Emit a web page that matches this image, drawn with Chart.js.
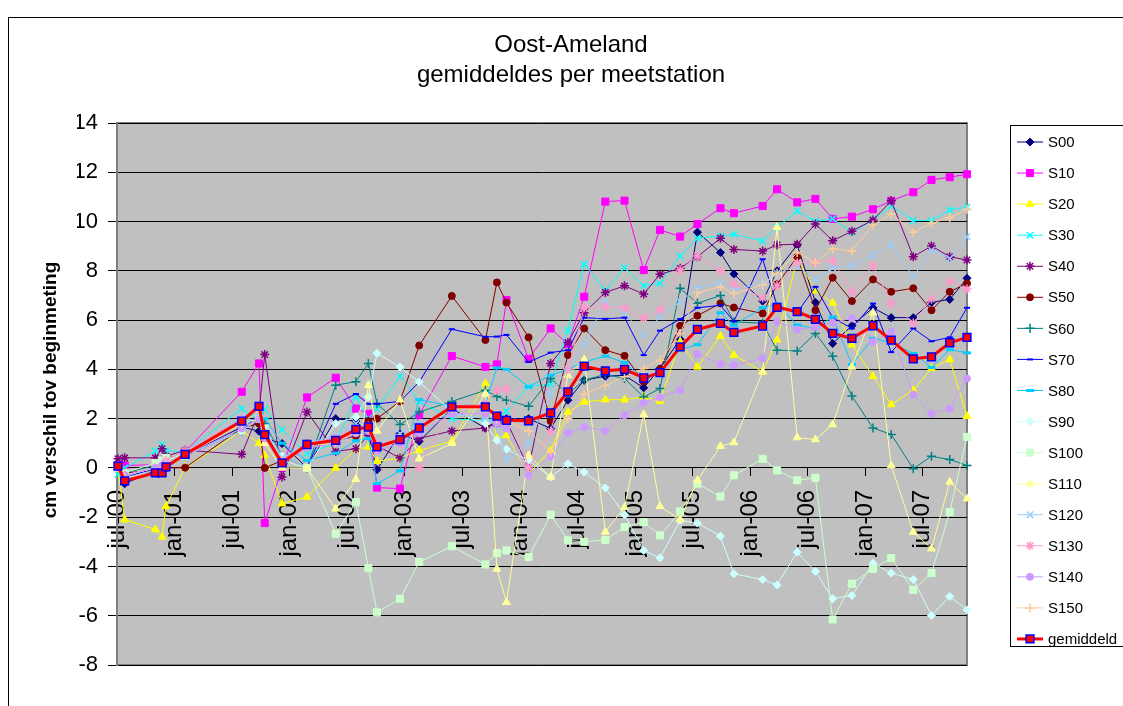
<!DOCTYPE html>
<html>
<head>
<meta charset="utf-8">
<script src="https://cdn.jsdelivr.net/npm/chart.js@4.4.1/dist/chart.umd.min.js"></script>
<style>
	html, body { margin: 0; padding: 0; background: #fff; overflow: hidden; }
	canvas { display: block; }
</style>
</head>
<body>
<canvas id="chart" width="1123" height="706"></canvas>
<script>
(function() {
	'use strict';

	// meetmomenten in maanden na 1 juli 2000
	const months = [0.1, 0.8, 4.0, 4.7, 5.1, 7.1, 13.0, 14.8, 15.4, 17.2, 19.8, 22.8, 24.9, 26.2, 27.1, 29.5, 31.5, 34.9, 38.4, 39.6, 40.6, 42.9, 45.2, 47.0, 48.7, 50.9, 52.9, 54.9, 56.6, 58.7, 60.5, 62.9, 64.3, 67.3, 68.8, 70.9, 72.8, 74.6, 76.6, 78.8, 80.7, 83.0, 84.9, 86.8, 88.6];

	const tickMonths = [0, 6, 12, 18, 24, 30, 36, 42, 48, 54, 60, 66, 72, 78, 84];
	const tickLabels = ['jul-00', 'jan-01', 'jul-01', 'jan-02', 'jul-02', 'jan-03', 'jul-03', 'jan-04', 'jul-04', 'jan-05', 'jul-05', 'jan-06', 'jul-06', 'jan-07', 'jul-07'];

	const S00 = [0.0, -0.64, -0.1, 0.0, 0.4, 0.5, 1.66, 1.49, 1.2, 0.99, 0.0, 2.0, 1.9, 1.4, -0.07, 1.39, 1.08, 2.4, 1.62, 1.9, 2.0, 2.0, 1.6, 2.75, 3.56, 3.72, 3.76, 3.25, 4.04, 5.22, 9.57, 8.74, 7.87, 6.77, 8.0, 9.05, 6.72, 5.05, 5.77, 6.5, 6.1, 6.1, 6.72, 6.84, 7.7];
	const S10 = [0.1, 0.1, 0.13, 0.1, 0.1, 0.65, 3.09, 4.24, -2.24, 0.0, 2.86, 3.66, 2.41, 2.2, -0.8, -0.84, 2.16, 4.54, 4.1, 4.2, 6.81, 4.43, 5.66, 5.02, 6.95, 10.81, 10.85, 8.03, 9.66, 9.39, 9.9, 10.54, 10.34, 10.63, 11.31, 10.78, 10.92, 10.11, 10.2, 10.5, 10.84, 11.19, 11.69, 11.8, 11.92];
	const S20 = [0.0, -2.1, -2.5, -2.8, -1.56, 0.0, 1.5, 1.0, 0.51, -1.45, -1.18, 0.0, 0.75, 0.85, 0.27, 0.4, 0.71, 1.08, 3.43, 1.2, 1.32, -0.24, 0.71, 2.27, 2.68, 2.77, 2.77, 2.88, 2.71, 5.12, 4.1, 5.35, 4.58, 3.9, 5.2, 8.5, 7.19, 6.7, 5.0, 3.72, 2.57, 3.15, 4.04, 4.4, 2.1];
	const S30 = [-0.26, 0.0, 0.69, 0.96, 0.7, 0.65, 2.41, 1.9, 2.37, 1.55, 0.58, 1.0, 2.88, 2.0, 2.4, 3.72, 2.7, 2.0, 1.9, 2.0, 2.3, 3.3, 3.4, 5.59, 8.27, 7.21, 8.13, 7.4, 7.49, 8.6, 9.32, 9.41, 9.48, 9.21, 9.77, 10.43, 10.0, 10.11, 9.57, 10.06, 10.63, 10.04, 10.04, 10.47, 10.58];
	const S40 = [0.37, 0.41, 0.41, 0.78, 0.47, 0.72, 0.55, 2.27, 4.6, -0.37, 2.27, 0.67, 0.78, 1.32, 0.9, 0.4, 1.2, 1.5, 1.62, 1.8, 1.9, 0.0, 4.24, 5.09, 6.3, 7.12, 7.39, 7.06, 7.86, 8.1, 8.57, 9.32, 8.87, 8.8, 9.05, 9.08, 9.9, 9.22, 9.61, 10.06, 10.84, 8.57, 9.01, 8.57, 8.44];
	const S50 = [0.0, -0.2, -0.1, -0.1, 0.0, 0.01, 1.62, 1.8, 0.0, 0.3, 1.0, 1.1, 1.3, 1.9, 2.0, 2.7, 4.97, 6.98, 5.19, 7.53, 6.71, 5.3, 1.9, 4.58, 5.66, 4.78, 4.55, 3.5, 4.0, 5.77, 6.18, 6.68, 6.51, 6.27, 7.45, 8.57, 6.4, 7.72, 6.77, 7.65, 7.15, 7.29, 6.4, 7.15, 7.49];
	const S60 = [0.0, -0.2, 0.1, 0.2, 0.3, 0.5, 1.5, 2.0, 1.8, 0.5, 0.0, 3.36, 3.5, 4.24, 2.61, 1.76, 2.27, 2.7, 3.15, 2.9, 2.75, 2.5, 3.63, 3.0, 3.56, 3.8, 3.63, 2.88, 3.22, 7.29, 6.68, 7.0, 5.93, 5.87, 4.78, 4.75, 5.46, 4.53, 2.92, 1.62, 1.36, -0.03, 0.47, 0.34, 0.1];
	const S70 = [0.0, -0.4, 0.0, 0.2, 0.2, 0.5, 1.5, 2.2, 1.5, 0.5, 0.0, 2.6, 3.0, 2.6, 2.6, 2.7, 3.49, 5.63, 5.32, 5.33, 5.4, 4.3, 4.68, 4.78, 6.1, 6.05, 6.1, 4.58, 5.57, 6.04, 6.5, 6.6, 5.95, 8.47, 6.6, 6.3, 7.35, 6.1, 5.66, 6.67, 4.7, 5.66, 5.14, 5.3, 6.5];
	const S80 = [0.0, -0.3, 0.0, 0.2, 0.3, 0.5, 2.0, 2.2, 2.0, 1.0, 0.3, 0.6, 1.1, 1.2, -0.64, -0.12, 2.77, 2.5, 2.6, 4.06, 4.0, 3.29, 3.76, 4.0, 4.3, 4.54, 4.28, 3.59, 3.9, 4.8, 5.0, 6.3, 5.79, 6.5, 6.65, 5.8, 5.66, 6.13, 4.2, 5.26, 5.08, 4.65, 4.08, 4.8, 4.67];
	const S90 = [0.0, -0.3, 0.0, 0.2, 0.3, 0.5, 1.5, 2.0, 1.5, 0.5, 0.0, 1.8, 2.07, 2.88, 4.65, 4.1, 3.49, 2.3, 1.8, 1.12, 0.76, 0.3, -0.37, 0.17, -0.17, -0.81, -1.9, -3.35, -3.65, -2.13, -2.24, -2.77, -4.3, -4.53, -4.75, -3.42, -4.2, -5.31, -5.18, -3.87, -4.27, -4.53, -5.99, -5.22, -5.76];
	const S100 = [0.0, -0.2, 0.2, 0.3, 0.4, 0.5, 1.8, 2.0, 1.6, 0.3, 0.0, -2.67, -1.39, -4.07, -5.86, -5.31, -3.82, -3.18, -3.92, -3.46, -3.35, -3.62, -1.9, -2.94, -3.0, -2.92, -2.4, -2.2, -2.74, -1.77, -0.64, -1.16, -0.3, 0.37, -0.1, -0.5, -0.4, -6.15, -4.7, -4.1, -3.66, -4.95, -4.27, -1.79, 1.26];
	const S110 = [0.0, -0.3, 0.0, 0.0, 0.3, 0.6, 1.8, 2.5, 1.0, 0.0, 0.0, -1.66, -0.46, 3.36, 1.5, 2.77, 0.37, 1.0, 3.0, -4.1, -5.45, 0.51, -0.37, 3.76, 4.4, -2.6, -1.6, 2.17, -1.56, -2.1, -0.5, 0.88, 1.03, 3.9, 9.77, 1.23, 1.15, 1.76, 4.1, 6.3, 0.1, -2.6, -3.28, -0.57, -1.25];
	const S120 = [0.0, -0.4, -0.1, 0.0, 0.2, 0.6, 2.1, 2.3, 1.5, 0.4, 1.0, 1.3, 1.8, 1.5, 1.0, 1.4, 1.8, 2.2, 2.0, 1.7, 0.35, 1.0, 3.0, 4.0, 5.0, 6.74, 6.3, 5.39, 6.13, 6.74, 7.3, 7.5, 7.22, 7.49, 7.9, 8.2, 7.65, 8.12, 8.2, 8.64, 9.05, 7.76, 8.84, 8.5, 9.38];
	const S130 = [0.1, -0.3, 0.0, 0.1, 0.3, 0.7, 2.0, 2.4, 1.4, 0.3, 1.0, 1.2, 1.5, 1.7, 1.0, 1.0, 0.0, 2.5, 2.6, 3.15, 3.2, 0.0, 1.5, 4.0, 6.5, 6.55, 6.48, 6.07, 6.41, 8.03, 8.6, 8.0, 7.46, 6.9, 7.4, 8.33, 8.35, 8.42, 7.15, 8.21, 6.67, 5.88, 6.85, 7.58, 7.26];
	const S140 = [0.0, -0.3, 0.0, 0.1, 0.2, 0.5, 1.6, 2.0, 1.2, 0.2, 0.8, 1.0, 1.4, 1.5, 0.7, 1.0, 1.4, 2.2, 2.2, 1.8, 1.6, -0.3, 0.47, 1.42, 1.66, 1.5, 2.14, 2.64, 2.86, 3.15, 4.62, 4.21, 4.17, 4.44, 5.93, 5.62, 5.7, 5.9, 6.07, 5.12, 5.53, 2.98, 2.2, 2.41, 3.63];
	const S150 = [0.0, -0.4, -0.2, 0.0, 0.2, 0.5, 1.8, 2.3, 1.3, 0.3, 0.9, 1.0, 1.5, 1.6, 0.8, 1.2, 1.6, 2.4, 2.4, 2.0, 1.9, 1.5, 0.65, 2.0, 3.0, 3.35, 3.7, 4.03, 4.37, 5.46, 7.11, 7.35, 7.08, 7.42, 7.9, 8.74, 8.33, 8.9, 8.8, 9.86, 10.31, 9.57, 9.93, 10.16, 10.5];
	const gemiddeld = [0.07, -0.53, -0.2, -0.2, 0.04, 0.55, 1.9, 2.5, 1.35, 0.2, 0.95, 1.12, 1.56, 1.66, 0.85, 1.15, 1.62, 2.48, 2.48, 2.1, 1.93, 1.91, 2.23, 3.09, 4.13, 3.94, 4.0, 3.65, 3.87, 4.91, 5.62, 5.87, 5.5, 5.76, 6.52, 6.34, 6.03, 5.46, 5.26, 5.77, 5.19, 4.43, 4.51, 5.08, 5.3];

	const FONT = '"Liberation Sans", Arial, sans-serif';

	// naam, waarden, kleur, marker, grootte
	const series = [
		['S00', S00, '#000080', 'rectRot', 4],
		['S10', S10, '#FF00FF', 'rect', 5],
		['S20', S20, '#FFFF00', 'triangle', 4.5],
		['S30', S30, '#00FFFF', 'crossRot', 4.5],
		['S40', S40, '#800080', 'star', 4.5],
		['S50', S50, '#800000', 'circle', 3.5],
		['S60', S60, '#008080', 'cross', 4.5],
		['S70', S70, '#0000FF', 'line', 3],
		['S80', S80, '#00CCFF', 'line', 4],
		['S90', S90, '#CCFFFF', 'rectRot', 4],
		['S100', S100, '#CCFFCC', 'rect', 5],
		['S110', S110, '#FFFF99', 'triangle', 4.5],
		['S120', S120, '#99CCFF', 'crossRot', 4.5],
		['S130', S130, '#FF99CC', 'star', 4.5],
		['S140', S140, '#CC99FF', 'circle', 3.5],
		['S150', S150, '#FFCC99', 'cross', 4.5]
	];

	function toPoints(vals) {
		return vals.map((v, i) => ({ x: months[i], y: v }));
	}

	const datasets = series.map((s, i) => {
		const crossLike = s[3] === 'cross' || s[3] === 'crossRot' || s[3] === 'star';
		return {
			label: s[0],
			data: toPoints(s[1]),
			borderColor: s[2],
			backgroundColor: s[2],
			borderWidth: 1,
			pointStyle: s[3],
			pointRadius: s[4],
			pointHoverRadius: s[4],
			pointBackgroundColor: s[2],
			pointBorderColor: s[2],
			pointBorderWidth: s[3] === 'line' ? (s[0] === 'S80' ? 3 : 2) : (crossLike ? 1.5 : 1),
			tension: 0,
			clip: false,
			order: 20 - i
		};
	});

	datasets.push({
		label: 'gemiddeld',
		data: toPoints(gemiddeld),
		borderColor: '#FF0000',
		backgroundColor: '#FF0000',
		borderWidth: 3,
		pointStyle: 'rect',
		pointRadius: 5.5,
		pointHoverRadius: 5.5,
		pointBackgroundColor: '#FF0000',
		pointBorderColor: '#0000FF',
		pointBorderWidth: 1.5,
		tension: 0,
		clip: false,
		order: 0
	});

	function drawMarker(ctx, ds, x, y) {
		ctx.fillStyle = ds.pointBackgroundColor;
		ctx.strokeStyle = ds.pointBorderColor;
		ctx.lineWidth = ds.pointBorderWidth;
		if (Chart.helpers && Chart.helpers.drawPoint) {
			Chart.helpers.drawPoint(ctx, {
				pointStyle: ds.pointStyle,
				radius: ds.pointRadius,
				borderWidth: ds.pointBorderWidth,
				rotation: 0
			}, x, y);
		} else {
			ctx.beginPath(); ctx.arc(x, y, 3, 0, Math.PI * 2); ctx.fill();
		}
	}

	const decor = {
		id: 'decor',
		beforeDraw(chart) {
			const { ctx, chartArea: a } = chart;
			ctx.save();
			ctx.fillStyle = '#fff';
			ctx.fillRect(0, 0, chart.width, chart.height);
			ctx.strokeStyle = '#000';
			ctx.lineWidth = 1;
			ctx.strokeRect(8.5, 17.5, 1400, 1000);

			ctx.fillStyle = '#C0C0C0';
			ctx.fillRect(a.left, a.top, a.right - a.left, a.bottom - a.top);
			ctx.strokeStyle = '#808080';
			ctx.lineWidth = 2;
			ctx.strokeRect(a.left, a.top, a.right - a.left, a.bottom - a.top);

			ctx.fillStyle = '#000';
			ctx.textAlign = 'center';
			ctx.textBaseline = 'middle';
			ctx.font = '24px ' + FONT;
			ctx.fillText('Oost-Ameland', 571, 45);
			ctx.fillText('gemiddeldes per meetstation', 571, 75);

			ctx.translate(50.5, 390);
			ctx.rotate(-Math.PI / 2);
			ctx.font = 'bold 19px ' + FONT;
			ctx.fillText('cm verschil tov beginmeting', 0, 0);
			ctx.restore();
		},
		afterDraw(chart) {
			const { ctx } = chart;
			const lx = 1010, ly = 125, step = 31.06;
			ctx.save();
			ctx.strokeStyle = '#000';
			ctx.lineWidth = 1;
			ctx.strokeRect(lx + 0.5, ly + 0.5, 200, 521);
			ctx.font = '15px ' + FONT;
			ctx.textBaseline = 'middle';
			ctx.textAlign = 'left';
			chart.data.datasets.forEach((ds, i) => {
				const y = ly + 17 + i * step;
				ctx.strokeStyle = ds.borderColor;
				ctx.lineWidth = ds.borderWidth;
				ctx.beginPath();
				ctx.moveTo(lx + 7, y);
				ctx.lineTo(lx + 33, y);
				ctx.stroke();
				drawMarker(ctx, ds, lx + 20, y);
				ctx.fillStyle = '#000';
				ctx.fillText(ds.label, lx + 38, y + 1);
			});
			ctx.restore();
		}
	};

	new Chart(document.getElementById('chart'), {
		type: 'line',
		data: { datasets },
		plugins: [decor],
		options: {
			responsive: false,
			animation: false,
			devicePixelRatio: 1,
			layout: { padding: { left: 77, top: 123, right: 156, bottom: 41 } },
			plugins: {
				legend: { display: false },
				title: { display: false },
				tooltip: { enabled: false }
			},
			scales: {
				x: {
					type: 'linear',
					position: { y: 0 },
					min: 0,
					max: 88.6,
					afterBuildTicks: s => { s.ticks = tickMonths.map(v => ({ value: v })); },
					ticks: {
						autoSkip: false,
						minRotation: 90,
						maxRotation: 90,
						padding: 14,
						color: '#000',
						font: { family: FONT, size: 24 },
						callback: (v, i) => tickLabels[i]
					},
					grid: { drawOnChartArea: false, drawTicks: true, tickLength: 8, color: '#000', lineWidth: 1 },
					border: { display: true, color: '#000', width: 1 }
				},
				y: {
					min: -8,
					max: 14,
					afterFit: s => { s.width = 40; },
					ticks: {
						stepSize: 2,
						padding: 10,
						color: '#000',
						font: { family: FONT, size: 22 }
					},
					grid: { color: '#000', lineWidth: 1, tickLength: 9 },
					border: { display: true, color: '#808080', width: 2 }
				}
			}
		}
	});
})();
</script>
</body>
</html>
